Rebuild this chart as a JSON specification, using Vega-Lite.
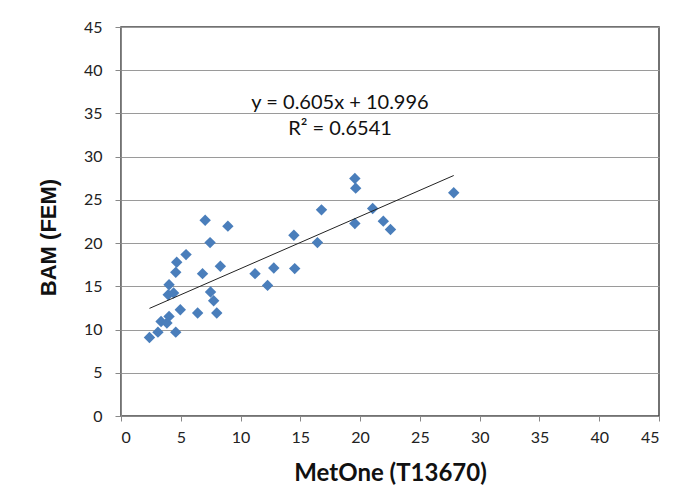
{
  "$schema": "https://vega.github.io/schema/vega-lite/v6.json",
  "autosize": {"type": "none"},
  "padding": {"left": 121, "top": 27, "right": 39, "bottom": 79},
  "width": 538,
  "height": 389,
  "background": "white",
  "config": {
    "view": {"stroke": "#444444", "strokeWidth": 1.5},
    "font": "Lato"
  },
  "datasets": {
    "pts": [
      {"metone": 2.38, "bam": 9.08},
      {"metone": 3.09, "bam": 9.70},
      {"metone": 3.35, "bam": 10.94},
      {"metone": 3.84, "bam": 10.75},
      {"metone": 4.02, "bam": 11.52},
      {"metone": 4.58, "bam": 9.70},
      {"metone": 4.96, "bam": 12.29},
      {"metone": 3.95, "bam": 14.03},
      {"metone": 4.40, "bam": 14.23},
      {"metone": 4.02, "bam": 15.19},
      {"metone": 4.58, "bam": 16.62},
      {"metone": 4.66, "bam": 17.78},
      {"metone": 5.44, "bam": 18.67},
      {"metone": 6.41, "bam": 11.91},
      {"metone": 6.82, "bam": 16.47},
      {"metone": 7.04, "bam": 22.65},
      {"metone": 7.45, "bam": 20.06},
      {"metone": 7.49, "bam": 14.34},
      {"metone": 7.75, "bam": 13.34},
      {"metone": 8.01, "bam": 11.91},
      {"metone": 8.31, "bam": 17.32},
      {"metone": 8.94, "bam": 21.96},
      {"metone": 11.21, "bam": 16.47},
      {"metone": 12.26, "bam": 15.11},
      {"metone": 12.78, "bam": 17.12},
      {"metone": 14.46, "bam": 20.91},
      {"metone": 14.53, "bam": 17.05},
      {"metone": 16.43, "bam": 20.06},
      {"metone": 16.77, "bam": 23.85},
      {"metone": 19.56, "bam": 27.48},
      {"metone": 19.63, "bam": 26.36},
      {"metone": 19.56, "bam": 22.27},
      {"metone": 21.05, "bam": 24.00},
      {"metone": 21.94, "bam": 22.54},
      {"metone": 22.54, "bam": 21.57},
      {"metone": 27.83, "bam": 25.82}
    ],
    "labels": [
      {"metone": 18.32, "bam": 36.2, "text": "y = 0.605x + 10.996"},
      {"metone": 18.32, "bam": 33.2, "text": "R² = 0.6541"}
    ]
  },
  "encoding": {
    "x": {
      "field": "metone", "type": "quantitative",
      "scale": {"domain": [0, 45], "nice": false, "zero": false},
      "axis": {
        "title": "MetOne (T13670)", "values": [0,5,10,15,20,25,30,35,40,45],
        "grid": false, "domainColor": "#888888", "tickColor": "#888888", "tickSize": 5,
        "labelFontSize": 16, "labelColor": "#222222", "labelPadding": 8, "labelFont": "Lato",
        "titleFont": "Lato", "titleFontSize": 24, "titleFontWeight": "bold", "titleColor": "#111111",
        "titleBaseline": "middle", "titleY": 57
      }
    },
    "y": {
      "field": "bam", "type": "quantitative",
      "scale": {"domain": [0, 45], "nice": false, "zero": false},
      "axis": {
        "title": "BAM (FEM)", "values": [0,5,10,15,20,25,30,35,40,45],
        "grid": true, "gridColor": "#9a9a9a", "domainColor": "#888888", "tickColor": "#888888", "tickSize": 6,
        "labelFontSize": 16, "labelColor": "#222222", "labelPadding": 13, "labelFont": "Lato",
        "titleFont": "Liberation Sans", "titleFontSize": 22, "titleFontWeight": "bold", "titleColor": "#111111",
        "titleAngle": 270, "titleAlign": "center", "titleBaseline": "middle", "titleX": -73, "titleY": 210
      }
    }
  },
  "layer": [
    {
      "data": {"name": "pts"},
      "mark": {"type": "point", "shape": "diamond", "filled": true, "size": 130, "color": "#4a7ebb", "opacity": 1}
    },
    {
      "data": {"name": "pts"},
      "transform": [{"regression": "bam", "on": "metone"}],
      "mark": {"type": "line", "color": "#222222", "strokeWidth": 1}
    },
    {
      "data": {"name": "labels"},
      "mark": {"type": "text", "font": "Lato", "fontSize": 20, "color": "#111111", "align": "center", "baseline": "middle"},
      "encoding": {"text": {"field": "text"}}
    }
  ]
}
